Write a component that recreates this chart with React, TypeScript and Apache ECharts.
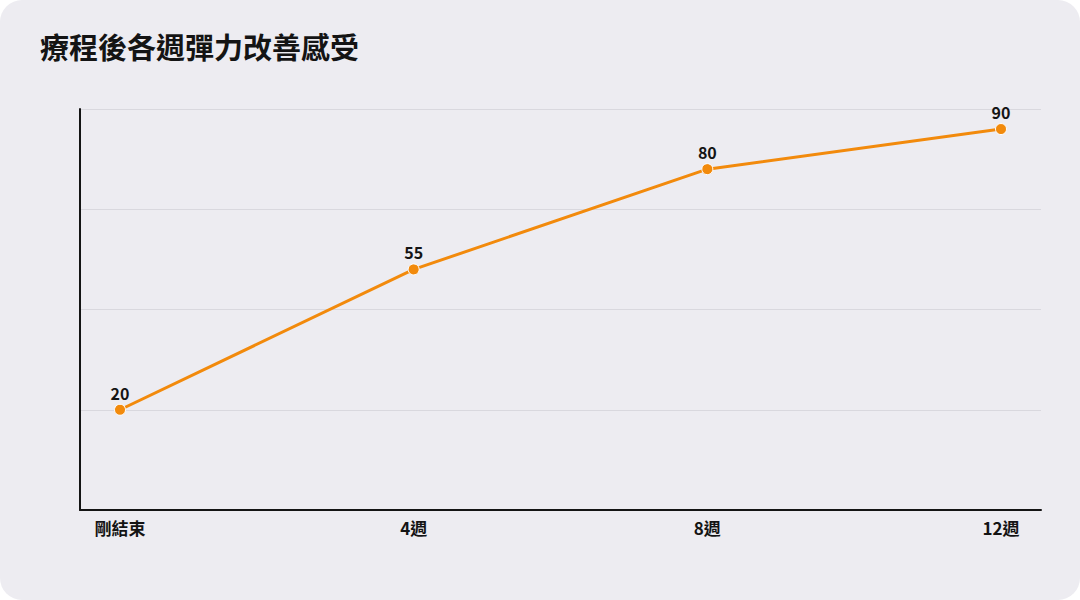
import { useEffect, useRef } from 'react';
import * as echarts from 'echarts';

const categories = ['剛結束', '4週', '8週', '12週'];
const values = [20, 55, 80, 90];
const yMin = -5;
const yMax = 95;
const yStep = 25;

const ORANGE = '#F28A0C';
const INK = '#141414';
const FONT = '"Noto Sans CJK TC", "Noto Sans", sans-serif';

export default function App() {
  const ref = useRef<HTMLDivElement | null>(null);

  useEffect(() => {
    document.body.style.margin = '0';
    if (!ref.current) return;
    const chart = echarts.init(ref.current, undefined, { renderer: 'svg' });

    chart.setOption({
      animation: false,
      title: {
        text: '療程後各週彈力改善感受',
        left: 35,
        top: 26,
        textStyle: { fontFamily: FONT, fontSize: 29, fontWeight: 700, color: INK },
      },
      grid: [
        // frame: axis lines + split lines
        { left: 80, right: 39, top: 109, bottom: 90 },
        // data: points inset from the frame
        { left: 120, right: 79, top: 109, bottom: 90 },
      ],
      xAxis: [
        {
          gridIndex: 0,
          type: 'category',
          data: categories,
          axisLine: { onZero: false, lineStyle: { color: INK, width: 2 } },
          axisTick: { show: false },
          axisLabel: { show: false },
        },
        {
          gridIndex: 1,
          type: 'category',
          boundaryGap: false,
          data: categories,
          axisLine: { show: false, onZero: false },
          axisTick: { show: false },
          axisLabel: {
            margin: 9,
            color: INK,
            fontSize: 17,
            fontWeight: 600,
            fontFamily: FONT,
          },
        },
      ],
      yAxis: [
        {
          gridIndex: 0,
          type: 'value',
          min: yMin,
          max: yMax,
          interval: yStep,
          axisLine: { show: true, lineStyle: { color: INK, width: 2 } },
          axisTick: { show: false },
          axisLabel: { show: false },
          splitLine: { lineStyle: { color: '#D9D8DE', width: 1 } },
        },
        {
          gridIndex: 1,
          type: 'value',
          min: yMin,
          max: yMax,
          interval: yStep,
          axisLine: { show: false },
          axisTick: { show: false },
          axisLabel: { show: false },
          splitLine: { show: false },
        },
      ],
      series: [
        {
          type: 'line',
          xAxisIndex: 1,
          yAxisIndex: 1,
          data: values,
          symbol: 'circle',
          symbolSize: 11,
          lineStyle: { color: ORANGE, width: 3 },
          itemStyle: { color: ORANGE, borderColor: '#fff', borderWidth: 1 },
          label: {
            show: true,
            position: 'top',
            distance: 3,
            color: INK,
            fontSize: 16,
            fontWeight: 700,
            fontFamily: FONT,
          },
        },
      ],
    });

    return () => chart.dispose();
  }, []);

  return (
    <div
      style={{
        width: 1080,
        height: 600,
        background: '#EDECF1',
        borderRadius: 22,
        overflow: 'hidden',
      }}
    >
      <div ref={ref} style={{ width: 1080, height: 600 }} />
    </div>
  );
}
